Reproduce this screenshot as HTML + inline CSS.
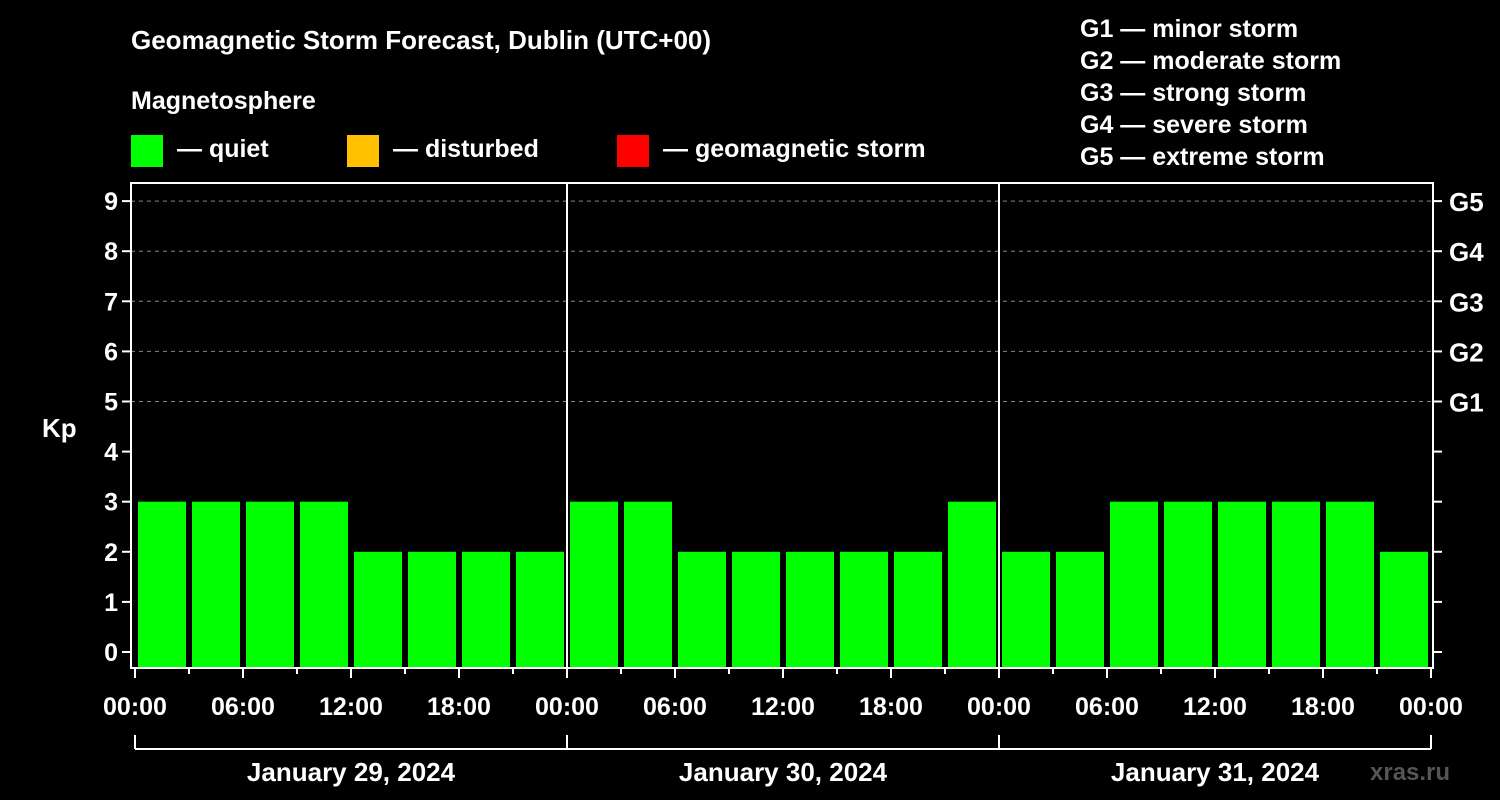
<!DOCTYPE html>
<html><head><meta charset="utf-8"><style>
body{margin:0;background:#000;width:1500px;height:800px;overflow:hidden}
svg{display:block;font-family:"Liberation Sans",Arial,sans-serif;font-weight:bold}
</style></head><body>
<svg id="c" width="1500" height="800" xmlns="http://www.w3.org/2000/svg">
<rect width="1500" height="800" fill="#000"/>
<text x="131" y="49" fill="#fff" font-size="26">Geomagnetic Storm Forecast, Dublin (UTC+00)</text>
<text x="131" y="109" fill="#fff" font-size="25">Magnetosphere</text>
<g><rect x="131" y="135" width="32" height="32" fill="#00ff00"/><text x="177" y="157" fill="#fff" font-size="25">— quiet</text></g>
<g><rect x="347" y="135" width="32" height="32" fill="#ffc000"/><text x="393" y="157" fill="#fff" font-size="25">— disturbed</text></g>
<g><rect x="617" y="135" width="32" height="32" fill="#ff0000"/><text x="663" y="157" fill="#fff" font-size="25">— geomagnetic storm</text></g>
<g fill="#fff" font-size="25">
<text x="1080" y="37">G1 — minor storm</text><text x="1080" y="69">G2 — moderate storm</text><text x="1080" y="101">G3 — strong storm</text><text x="1080" y="133">G4 — severe storm</text><text x="1080" y="165">G5 — extreme storm</text>
</g>
<text x="42" y="437" fill="#fff" font-size="26">Kp</text>
<text x="1370" y="780" fill="#555" font-size="24">xras.ru</text>
<g id="grid"></g><g id="bars"></g><g id="axes"></g>
</svg>
<script>
const kpValues=[3,3,3,3,2,2,2,2, 3,3,2,2,2,2,2,3, 2,2,3,3,3,3,3,2];
const dayLabels=["January 29, 2024","January 30, 2024","January 31, 2024"];
const hourLabels=["00:00","06:00","12:00","18:00"];
const yTicks=[0,1,2,3,4,5,6,7,8,9];
const gLabels=[[5,"G1"],[6,"G2"],[7,"G3"],[8,"G4"],[9,"G5"]];
const NS="http://www.w3.org/2000/svg";
const L=131,R=1433,T=183,B=668,X0=135,SLOT=54;
const y=v=>652-v*50.1, x=i=>X0+i*SLOT;
function mk(p,t,a){const e=document.createElementNS(NS,t);for(const k in a)e.setAttribute(k,a[k]);p.appendChild(e);return e;}
const grid=document.getElementById('grid'),bars=document.getElementById('bars'),ax=document.getElementById('axes');
yTicks.forEach(v=>{if(v>=5){const l=mk(grid,'line',{x1:L,x2:R,y1:y(v),y2:y(v),stroke:'#888','stroke-dasharray':'4,4'});

}
const t=mk(ax,'line',{x1:L-9,x2:L,y1:y(v),y2:y(v),stroke:'#fff','stroke-width':2});


mk(ax,'line',{x1:R,x2:R+9,y1:y(v),y2:y(v),stroke:'#fff','stroke-width':2});
const tx=mk(ax,'text',{x:L-13,y:y(v)+9,fill:'#fff','font-size':25,'text-anchor':'end'});tx.textContent=v;

});
gLabels.forEach(g=>{const t=mk(ax,'text',{x:R+16,y:y(g[0])+10,fill:'#fff','font-size':26});t.textContent=g[1];

});
kpValues.forEach((v,i)=>{const c=v>=5?'#ff0000':(v>=4?'#ffc000':'#00ff00');
const r=mk(bars,'rect',{x:x(i)+3,y:y(v),width:SLOT-6,height:B-y(v),fill:c});

});
mk(ax,'rect',{x:L,y:T,width:R-L,height:B-T,fill:'none',stroke:'#fff','stroke-width':2});
for(let d=1;d<dayLabels.length;d++)mk(ax,'line',{x1:x(d*8),x2:x(d*8),y1:T,y2:B,stroke:'#fff','stroke-width':2});
for(let i=0;i<=kpValues.length;i++){const maj=i%2==0;mk(ax,'line',{x1:x(i),x2:x(i),y1:B,y2:B+(maj?10:6),stroke:'#fff','stroke-width':2});
if(maj){const t=mk(ax,'text',{x:x(i),y:715,fill:'#fff','font-size':25,'text-anchor':'middle'});t.textContent=hourLabels[(i/2)%4];

}}
mk(ax,'line',{x1:x(0),x2:x(24),y1:749,y2:749,stroke:'#fff','stroke-width':2});
dayLabels.forEach((d,k)=>{mk(ax,'line',{x1:x(k*8),x2:x(k*8),y1:735,y2:749,stroke:'#fff','stroke-width':2});
const t=mk(ax,'text',{x:x(k*8+4),y:781,fill:'#fff','font-size':26,'text-anchor':'middle'});t.textContent=d;

});
mk(ax,'line',{x1:x(24),x2:x(24),y1:735,y2:749,stroke:'#fff','stroke-width':2});
</script>
</body></html>
